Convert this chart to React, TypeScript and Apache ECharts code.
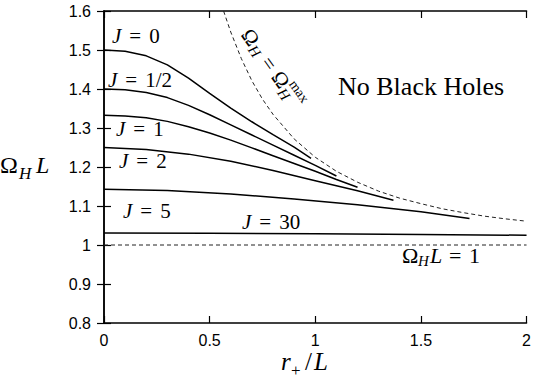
import React, { useEffect, useRef } from 'react';
import * as echarts from 'echarts';

// J = 0
const rJ0 = [0, 0.1, 0.2, 0.3, 0.4, 0.5, 0.6, 0.7, 0.8, 0.9, 0.98];
const wJ0 = [1.5, 1.497, 1.485, 1.462, 1.428, 1.389, 1.351, 1.316, 1.283, 1.251, 1.222];
// J = 1/2
const rJ12 = [0, 0.1, 0.2, 0.3, 0.4, 0.5, 0.6, 0.7, 0.8, 0.9, 1.0, 1.1];
const wJ12 = [1.4, 1.398, 1.391, 1.378, 1.358, 1.334, 1.308, 1.282, 1.256, 1.23, 1.204, 1.177];
// J = 1
const rJ1 = [0, 0.1, 0.2, 0.3, 0.4, 0.5, 0.6, 0.7, 0.8, 0.9, 1.0, 1.1, 1.2];
const wJ1 = [1.333, 1.331, 1.326, 1.317, 1.303, 1.287, 1.269, 1.249, 1.229, 1.209, 1.189, 1.168, 1.148];
// J = 2
const rJ2 = [0, 0.2, 0.4, 0.6, 0.8, 1.0, 1.2, 1.37];
const wJ2 = [1.25, 1.245, 1.233, 1.215, 1.191, 1.165, 1.139, 1.115];
// J = 5
const rJ5 = [0, 0.3, 0.6, 0.9, 1.2, 1.5, 1.73];
const wJ5 = [1.143, 1.14, 1.131, 1.118, 1.103, 1.085, 1.068];
// J = 30
const rJ30 = [0, 0.5, 1.0, 1.5, 2.0];
const wJ30 = [1.031, 1.03, 1.029, 1.027, 1.025];
// Omega_H max (dashed)
const rMax = [0.566, 0.6, 0.65, 0.7, 0.75, 0.8, 0.9, 1.0, 1.1, 1.2, 1.3, 1.4, 1.5, 1.6, 1.7, 1.8, 1.9, 2.0];
const wMax = [1.6, 1.546, 1.478, 1.421, 1.374, 1.335, 1.272, 1.225, 1.189, 1.161, 1.138, 1.12, 1.106, 1.093, 1.083, 1.074, 1.067, 1.061];
// Omega_H L = 1 (dashed)
const rOne = [0, 2];
const wOne = [1, 1];

const xTickInterval = 0.5;
const yTickInterval = 0.1;

const SERIF = "'Liberation Serif', 'Times New Roman', serif";
const SANS = "'Liberation Sans', Arial, sans-serif";

function pairs(r: number[], w: number[]) {
  return r.map((x, i) => [x, w[i]]);
}

function txt(text: string, x: number, y: number, size: number, italic = false, extra: any = {}) {
  return {
    type: 'text',
    x,
    y,
    silent: true,
    style: {
      text,
      fontSize: size,
      fontFamily: SERIF,
      fontStyle: italic ? 'italic' : 'normal',
      fill: '#000',
      verticalAlign: 'middle',
      align: 'left',
      ...extra,
    },
  };
}

function jLabel(val: string, x: number, y: number) {
  return {
    type: 'text',
    x,
    y,
    silent: true,
    style: {
      text: `{i|J}{e|=}{n|${val}}`,
      verticalAlign: 'middle',
      align: 'left',
      fill: '#000',
      rich: {
        i: { fontSize: 21, fontFamily: SERIF, fontStyle: 'italic', fill: '#000' },
        e: { fontSize: 21, fontFamily: SERIF, fill: '#000', padding: [0, 8, 0, 8] },
        n: { fontSize: 21, fontFamily: SERIF, fill: '#000' },
      },
    },
  };
}

export default function App() {
  const ref = useRef<HTMLDivElement>(null);
  useEffect(() => {
    const chart = echarts.init(ref.current!, null, { renderer: 'svg' });
    const solid = { color: '#000', width: 1.5 };
    const dashed = { color: '#222', width: 1, type: [4, 3] as any };
    const mk = (name: string, r: number[], w: number[], ls: any) => ({
      name,
      type: 'line',
      data: pairs(r, w),
      showSymbol: false,
      symbol: 'none',
      smooth: false,
      lineStyle: ls,
      xAxisIndex: 0,
      yAxisIndex: 0,
      silent: true,
    });
    const axisCommon = {
      type: 'value',
      axisLine: { show: true, lineStyle: { color: '#000', width: 1.5 } },
      axisTick: { show: true, inside: true, length: 7, lineStyle: { color: '#000', width: 1.2 } },
      splitLine: { show: false },
    };
    const option: any = {
      animation: false,
      grid: { left: 104, right: 6, top: 11, bottom: 59 },
      xAxis: [
        {
          ...axisCommon,
          position: 'bottom',
          min: 0,
          max: 2,
          interval: xTickInterval,
          axisLabel: { color: '#000', fontSize: 16, fontFamily: SANS, margin: 9 },
        },
        {
          ...axisCommon,
          position: 'top',
          min: 0,
          max: 2,
          interval: xTickInterval,
          axisLabel: { show: false },
        },
      ],
      yAxis: [
        {
          ...axisCommon,
          position: 'left',
          min: 0.8,
          max: 1.6,
          interval: yTickInterval,
          axisLabel: { color: '#000', fontSize: 16, fontFamily: SANS, margin: 13 },
        },
        {
          ...axisCommon,
          position: 'right',
          min: 0.8,
          max: 1.6,
          interval: yTickInterval,
          axisLabel: { show: false },
        },
      ],
      series: [
        mk('J=0', rJ0, wJ0, solid),
        mk('J=1/2', rJ12, wJ12, solid),
        mk('J=1', rJ1, wJ1, solid),
        mk('J=2', rJ2, wJ2, solid),
        mk('J=5', rJ5, wJ5, solid),
        mk('J=30', rJ30, wJ30, solid),
        mk('max', rMax, wMax, dashed),
        mk('one', rOne, wOne, dashed),
      ],
      graphic: [
        jLabel('0', 112, 36),
        jLabel('1/2', 108, 80),
        jLabel('1', 116, 129),
        jLabel('2', 119, 161),
        jLabel('5', 123, 211),
        jLabel('30', 242, 222),
        txt('No Black Holes', 338, 86, 26),
        // y axis name
        {
          type: 'group',
          children: [
            txt('Ω', 0, 165, 24),
            txt('H', 19, 173, 17, true),
            txt('L', 36, 165, 24, true),
          ],
        },
        // x axis name
        {
          type: 'group',
          children: [
            txt('r', 281, 361, 25, true),
            txt('+', 291, 370, 17),
            txt('/', 305, 361, 25),
            txt('L', 314, 361, 25, true),
          ],
        },
        // Omega_H L = 1
        {
          type: 'group',
          children: [
            txt('Ω', 402, 255, 22),
            txt('H', 418, 261, 15, true),
            txt('L', 430, 255, 22, true),
            txt('=', 449, 255, 22),
            txt('1', 469, 255, 22),
          ],
        },
        // Omega_H = Omega_H^max rotated
        {
          type: 'group',
          x: 246,
          y: 31,
          rotation: -0.95,
          children: [
            txt('Ω', 0, 0, 21),
            txt('H', 16, 5, 15, true),
            txt('=', 34, 0, 21),
            txt('Ω', 52, 0, 21),
            txt('max', 68, -8, 14),
            txt('H', 68, 6, 15, true),
          ],
        },
      ],
    };
    chart.setOption(option);
    return () => chart.dispose();
  }, []);
  return <div ref={ref} style={{ position: 'absolute', left: 0, top: 0, width: 534, height: 382 }} />;
}
